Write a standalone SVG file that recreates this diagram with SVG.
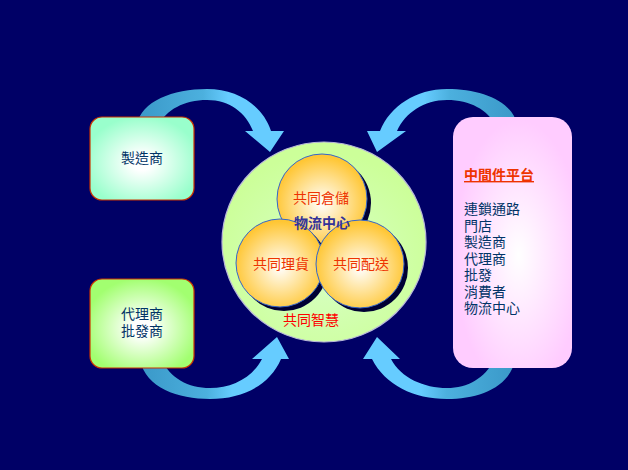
<svg xmlns="http://www.w3.org/2000/svg" width="628" height="470" viewBox="0 0 628 470">
<defs>
<linearGradient id="gLR" x1="0" y1="0" x2="1" y2="0">
<stop offset="0" stop-color="#3a98c8"/><stop offset="0.45" stop-color="#4cb0de"/><stop offset="0.62" stop-color="#66ccff"/><stop offset="1" stop-color="#66ccff"/>
</linearGradient>
<linearGradient id="gRL" x1="1" y1="0" x2="0" y2="0">
<stop offset="0" stop-color="#3a98c8"/><stop offset="0.45" stop-color="#4cb0de"/><stop offset="0.62" stop-color="#66ccff"/><stop offset="1" stop-color="#66ccff"/>
</linearGradient>
<radialGradient id="gMint" cx="0.5" cy="0.55" r="0.62">
<stop offset="0" stop-color="#ffffff"/><stop offset="0.15" stop-color="#ffffff"/><stop offset="0.9" stop-color="#99ffcc"/>
</radialGradient>
<radialGradient id="gGreen" cx="0.5" cy="0.55" r="0.62">
<stop offset="0" stop-color="#ffffff"/><stop offset="0.15" stop-color="#ffffff"/><stop offset="0.9" stop-color="#a2ff70"/>
</radialGradient>
<radialGradient id="gPink" cx="0.55" cy="0.55" r="0.6">
<stop offset="0" stop-color="#ffffff"/><stop offset="0.9" stop-color="#ffccff"/>
</radialGradient>
<radialGradient id="gBig" cx="0.5" cy="0.6" r="0.55">
<stop offset="0" stop-color="#d8ffc8"/><stop offset="1" stop-color="#ccff99"/>
</radialGradient>
<radialGradient id="gBall" cx="0.5" cy="0.55" r="0.55">
<stop offset="0" stop-color="#ffffff"/><stop offset="0.95" stop-color="#ffc633"/>
</radialGradient>
<style>
.cjk{font-family:"Noto Sans CJK TC","Noto Sans CJK SC",sans-serif;font-size:14px}
.box{stroke:#cc3300;stroke-width:1.2}
.ball{fill:url(#gBall);stroke:#3366cc;stroke-width:1}
.shadow{fill:#000033}
.dark{fill:#003366}
.red{fill:#ee3300}
</style>
</defs>
<rect width="628" height="470" fill="#000066"/>
<g id="connectors">
<path fill="url(#gLR)" d="M137,125 C141,101 173,89 207,89 C238,89 263,106 271,131 L284,131 L270,152 L245,131 L253,131 C246,113 230,100 207,100 C184,100 166,110 159,125 Z"/>
<path fill="url(#gRL)" d="M517,125 C513,101 481,89 447,89 C416,89 390,106 380,131 L367,131 L377,152 L406,131 L397,131 C405,113 424,100 447,100 C470,100 488,110 495,125 Z"/>
<path fill="url(#gLR)" d="M140,360 C146,388 178,399 210,399 C243,399 270,385 281,359 L289,359 L277,337 L252,359 L262,359 C252,378 232,388 210,388 C188,388 170,378 162,360 Z"/>
<path fill="url(#gRL)" d="M515,360 C509,388 478,399 447,399 C414,399 385,385 372,359 L363,359 L377,337 L400,359 L391,359 C401,378 424,388 447,388 C468,388 485,378 494,360 Z"/>
</g>
<g id="manufacturer">
<rect class="box" x="90" y="117" width="104" height="83" rx="12" fill="url(#gMint)"/>
<text class="cjk dark" x="142" y="163" text-anchor="middle">製造商</text>
</g>
<g id="agent">
<rect class="box" x="90" y="279" width="104" height="89" rx="12" fill="url(#gGreen)"/>
<text class="cjk dark" x="142" y="319" text-anchor="middle"><tspan x="142">代理商</tspan><tspan x="142" dy="17">批發商</tspan></text>
</g>
<g id="platform">
<rect x="453" y="117" width="119" height="251" rx="20" fill="url(#gPink)"/>
<text class="cjk red" x="464" y="180" font-weight="bold" text-decoration="underline">中間件平台</text>
<text class="cjk dark" x="464" y="214"><tspan x="464">連鎖通路</tspan><tspan x="464" dy="16.5">門店</tspan><tspan x="464" dy="16.5">製造商</tspan><tspan x="464" dy="16.5">代理商</tspan><tspan x="464" dy="16.5">批發</tspan><tspan x="464" dy="16.5">消費者</tspan><tspan x="464" dy="16.5">物流中心</tspan></text>
</g>
<g id="logistics-center">
<ellipse cx="324" cy="242" rx="102" ry="100" fill="url(#gBig)" stroke="#b8b8d8" stroke-width="1.2"/>
<text class="cjk" x="311" y="325" text-anchor="middle" fill="#ff0000">共同智慧</text>
</g>
<g id="warehousing">
<circle class="shadow" cx="326" cy="203" r="45"/>
<circle class="ball" cx="322" cy="199" r="45"/>
<text class="cjk red" x="321" y="203" text-anchor="middle">共同倉儲</text>
</g>
<g id="sorting">
<circle class="shadow" cx="284" cy="267" r="44"/>
<circle class="ball" cx="280" cy="263" r="44"/>
<text class="cjk red" x="281" y="269" text-anchor="middle">共同理貨</text>
</g>
<g id="delivery">
<circle class="shadow" cx="364" cy="268" r="44"/>
<circle class="ball" cx="360" cy="264" r="44"/>
<text class="cjk red" x="361" y="269" text-anchor="middle">共同配送</text>
</g>
<text class="cjk" x="322" y="228" text-anchor="middle" font-weight="bold" fill="#333399">物流中心</text>
</svg>
